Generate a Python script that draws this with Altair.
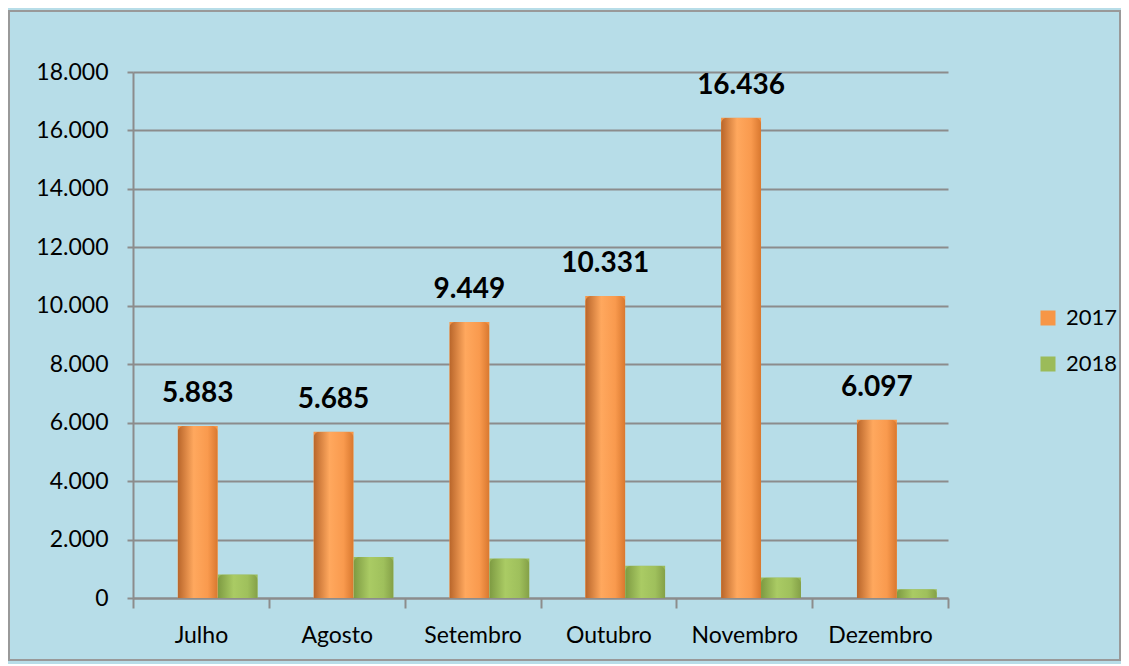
import altair as alt
import pandas as pd

meses = ["Julho", "Agosto", "Setembro", "Outubro", "Novembro", "Dezembro"]
anos = ["2017", "2018"]
valores_2017 = [5883, 5685, 9449, 10331, 16436, 6097]
valores_2018 = [800, 1400, 1350, 1100, 700, 300]
y_ticks = [0, 2000, 4000, 6000, 8000, 10000, 12000, 14000, 16000, 18000]
cores = ["#F79646", "#9BBB59"]

rows = []
for m, a, b in zip(meses, valores_2017, valores_2018):
    rows.append({"mes": m, "ano": "2017", "valor": a})
    rows.append({"mes": m, "ano": "2018", "valor": b})
df = pd.DataFrame(rows)

FONT = "Lato"
GREY = "#8c8c8c"
W, H = 815, 526

x_enc = alt.X("mes:N", sort=meses,
              scale=alt.Scale(paddingInner=0, paddingOuter=0),
              axis=alt.Axis(title=None, tickBand="extent", tickSize=10,
                            labelPadding=16, labelAngle=0, grid=False))
xo_enc = alt.XOffset("ano:N", scale=alt.Scale(domain=anos, paddingOuter=0.7,
                                               paddingInner=0, align=0.8))
y_enc = alt.Y("valor:Q", scale=alt.Scale(domain=[0, 18000], nice=False),
              axis=alt.Axis(title=None, values=y_ticks, tickSize=6, labelPadding=19,
                            labelExpr="replace(format(datum.value, ','), ',', '.')",
                            grid=True))

base = alt.Chart(df)

bars = base.mark_bar().encode(
    x=x_enc, xOffset=xo_enc, y=y_enc,
    color=alt.Color("ano:N", scale=alt.Scale(domain=anos, range=cores),
                    legend=alt.Legend(title=None, orient="none", legendX=904, legendY=235,
                                      symbolType="square", symbolSize=225,
                                      symbolStrokeWidth=0, labelFont=FONT,
                                      labelFontSize=22, labelColor="black",
                                      rowPadding=24, labelOffset=7)),
)

grad_orange = alt.Gradient(gradient="linear", x1=0, x2=1, y1=0, y2=0, stops=[
    alt.GradientStop(color="#B8652A", offset=0),
    alt.GradientStop(color="#FFA85E", offset=0.4),
    alt.GradientStop(color="#F99A4E", offset=0.75),
    alt.GradientStop(color="#D9782F", offset=1),
])
grad_green = alt.Gradient(gradient="linear", x1=0, x2=1, y1=0, y2=0, stops=[
    alt.GradientStop(color="#7D9A42", offset=0),
    alt.GradientStop(color="#AACB64", offset=0.4),
    alt.GradientStop(color="#9FC05C", offset=0.75),
    alt.GradientStop(color="#84A047", offset=1),
])

bars17 = base.mark_bar(fill=grad_orange, cornerRadiusTopLeft=6, cornerRadiusTopRight=6).encode(
    x=x_enc, xOffset=xo_enc, y=y_enc
).transform_filter("datum.ano == '2017'")
bars18 = base.mark_bar(fill=grad_green, cornerRadiusTopLeft=6, cornerRadiusTopRight=6).encode(
    x=x_enc, xOffset=xo_enc, y=y_enc
).transform_filter("datum.ano == '2018'")

labels = base.mark_text(font=FONT, fontSize=28, fontWeight="bold", color="black",
                        baseline="bottom", dy=-18).encode(
    x=x_enc, xOffset=xo_enc, y=y_enc, text="rotulo:N"
).transform_filter("datum.ano == '2017'").transform_calculate(
    rotulo="replace(format(datum.valor, ','), ',', '.')"
)

frame = alt.Chart(pd.DataFrame({"k": [0]})).mark_rect(
    fill=None, stroke="#999999", strokeWidth=2
).encode(x=alt.value(-124), x2=alt.value(987), y=alt.value(-61), y2=alt.value(588))

chart = alt.layer(bars, bars17, bars18, labels, frame).properties(
    width=W, height=H,
    background="#B7DDE8",
    autosize=alt.AutoSizeParams(type="none"),
    padding={"left": 125, "top": 64, "right": 173, "bottom": 66},
).configure_view(stroke=None).configure_axis(
    domainColor=GREY, domainWidth=2, gridColor=GREY, gridWidth=2,
    tickColor=GREY, tickWidth=2, labelFont=FONT, labelFontSize=23, labelColor="black"
)

chart.save("out.html", embed_options={"renderer": "svg", "actions": False})
